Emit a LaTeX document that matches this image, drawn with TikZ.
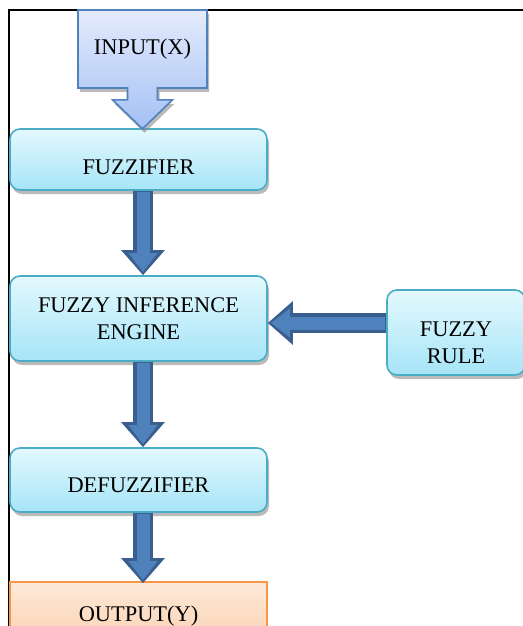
\documentclass[tikz,border=0pt]{standalone}
\usepackage{fontspec}
\setmainfont{Liberation Serif}
\usetikzlibrary{arrows.meta,shapes.arrows,shadows}
\definecolor{boxline}{HTML}{4BACC6}
\definecolor{boxtop}{HTML}{E3F8FD}
\definecolor{boxbot}{HTML}{A6E5F8}
\definecolor{inline}{HTML}{4F81BD}
\definecolor{intop}{HTML}{E4EBFC}
\definecolor{inbot}{HTML}{A4C1F4}
\definecolor{fatline}{HTML}{3A5F8E}
\definecolor{fatfill}{HTML}{4F81BD}
\definecolor{outline}{HTML}{F79646}
\definecolor{outtop}{HTML}{FDE9D9}
\definecolor{outbot}{HTML}{FBD0AE}

\begin{document}
\begin{tikzpicture}[x=0.5pt,y=-0.5pt,
  font=\fontsize{11.2pt}{13.5pt}\selectfont,
  shade/.style={drop shadow={shadow xshift=1pt,shadow yshift=-2pt,fill=black!45,opacity=0.6}},
  main box/.style={draw=boxline,line width=0.8pt,rounded corners=5pt,top color=boxtop,bottom color=boxbot,align=center,shade},
  input box/.style={arrow box,draw=inline,line width=0.8pt,top color=intop,bottom color=inbot,
    minimum width=64.5pt,minimum height=39pt,inner sep=0pt,
    arrow box north arrow=-1pt,arrow box east arrow=-1pt,arrow box west arrow=-1pt,
    arrow box south arrow=20pt,arrow box shaft width=15pt,arrow box head extend=7.5pt,
    arrow box head indent=0pt,arrow box tip angle=92,shade},
  output box/.style={draw=outline,line width=0.8pt,top color=outtop,bottom color=outbot,align=center},
  fat/.style={draw=fatline,line width=10pt,-{Triangle[length=12.5pt,width=21pt]},
    postaction={draw=fatfill,line width=6.5pt,-{Triangle[length=9.5pt,width=14pt]},shorten >=1.6pt,shorten <=0.8pt}},
  frame/.style={line width=0.8pt,black}]
  \useasboundingbox (0,0) rectangle (523,626);
  \clip (0,0) rectangle (523,626);

  \draw[frame] (9,626) -- (9,10) -- (523,10);

  \node[main box,minimum width=128.5pt,minimum height=30.5pt,text height=15.3pt,text depth=0pt] (fuzz) at (138.5,159.5) {FUZZIFIER};
  \node[main box,minimum width=128.5pt,minimum height=42.5pt] (fie) at (138.5,318.5) {FUZZY INFERENCE\\ENGINE};
  \node[main box,minimum width=128.5pt,minimum height=32pt,text height=12.8pt,text depth=0pt] (defuzz) at (138.5,480) {DEFUZZIFIER};
  \node[main box,minimum width=69pt,minimum height=42.5pt] (rule) at (456,332.5) {\rule{0pt}{17.3pt}FUZZY\\RULE};
  \node[output box,minimum width=128.5pt,minimum height=34pt] (out) at (138.5,616) {OUTPUT(Y)};
  \node[input box] (in) at (142.5,49) {INPUT(X)};

  \draw[fat] ([xshift=2.25pt]fuzz.south) -- ([xshift=2.25pt]fie.north);
  \draw[fat] ([xshift=2.25pt]fie.south) -- ([xshift=2.25pt]defuzz.north);
  \draw[fat] ([xshift=2.25pt]defuzz.south) -- ([xshift=2.25pt,yshift=-1pt]out.north);
  \draw[fat] ([yshift=4.75pt]rule.west) -- ([yshift=-2.25pt]fie.east);
\end{tikzpicture}
\end{document}
